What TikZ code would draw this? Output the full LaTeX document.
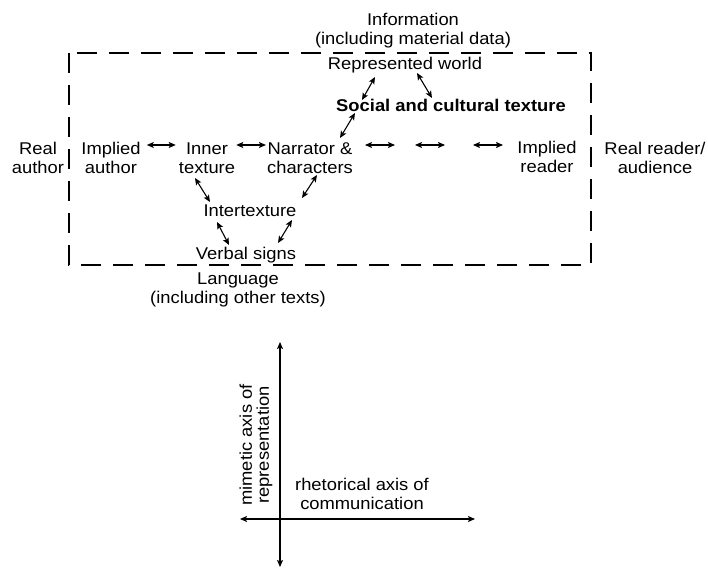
\documentclass[tikz,border=0pt]{standalone}
\usepackage{fontspec}
\setmainfont{Liberation Sans}[FakeStretch=1.08]
\usetikzlibrary{arrows.meta,calc}
\begin{document}
\begin{tikzpicture}[x=1pt,y=-1pt,
  txt/.style={font=\fontsize{17}{19}\selectfont, align=center, inner sep=0pt},
  tip/.tip={Stealth[length=7pt,width=6pt,inset=1.5pt]},
  arr/.style={tip-tip, line width=1.1pt},
  frame/.style={line width=1.8pt, dash pattern=on 20pt off 12pt}]
\useasboundingbox (0,0) rectangle (708,569);

% the text world, bounded by a dashed frame
\draw[frame] (69,53) rectangle (591,265);

% labels of the textual model
\node[txt] (info)    at (413,30.5) {Information\\(including material data)};
\node[txt] (repr)    at (405,65)   {Represented world};
\node[txt,font=\fontsize{17}{19}\selectfont\bfseries] (social) at (451,105) {Social and cultural texture};
\node[txt] (rauthor) at (38,158)   {Real\\author};
\node[txt] (iauthor) at (111,158)  {Implied\\author};
\node[txt] (inner)   at (207,158)  {Inner\\texture};
\node[txt] (narr)    at (310,158)  {Narrator \&\\characters};
\node[txt] (ireader) at (547,157)  {Implied\\reader};
\node[txt] (rreader) at (655,158)  {Real reader/\\audience};
\node[txt] (inter)   at (250,211)  {Intertexture};
\node[txt] (verbal)  at (246,255)  {Verbal signs};
\node[txt] (lang)    at (238,290)  {Language\\(including other texts)};

% horizontal chain of communication
\coordinate (row) at (0,145);
\draw[arr, shorten <=6pt, shorten >=3pt] (iauthor.east |- row) -- (inner.west |- row);
\draw[arr, shorten <=1pt, shorten >=1pt] (inner.east |- row) -- (narr.west |- row);
\coordinate (g1a) at (365,145); \coordinate (g1b) at (395,145);
\coordinate (g2a) at (415,145); \coordinate (g2b) at (445,145);
\coordinate (g3a) at (473,145); \coordinate (g3b) at (503,145);
\draw[arr] (g1a) -- (g1b);
\draw[arr] (g2a) -- (g2b);
\draw[arr] (g3a) -- (g3b);

% links between textures
\draw[arr] ([shift={(-12,20)}]inner.center)  -- ([shift={(-40,-9)}]inter.center);
\draw[arr] ([shift={(-33,11)}]inter.center)  -- ([shift={(-17,-10)}]verbal.center);
\draw[arr] ([shift={(32,-12)}]verbal.center) -- ([shift={(42,9)}]inter.center);
\draw[arr] ([shift={(52,-13)}]inter.center)  -- ([shift={(7,17)}]narr.center);
\draw[arr] ([shift={(30,-20)}]narr.center)   -- ([shift={(-96,8)}]social.center);
\draw[arr] ([shift={(-89,-5)}]social.center) -- ([shift={(-30,12)}]repr.center);
\draw[arr] ([shift={(12,8)}]repr.center)     -- ([shift={(-19,-7)}]social.center);

% the two axes
\coordinate (vtop) at (280,342);
\coordinate (vbot) at (280,567);
\coordinate (hleft) at (240,519);
\coordinate (hright) at (475,519);
\draw[arr] (vbot) -- (vtop);
\draw[arr] (hleft) -- (hright);
\node[txt, rotate=90, font=\fontsize{17}{17}\selectfont] (mimetic) at (256,445) {mimetic axis of\\representation};
\node[txt] (rhet) at (362,494) {rhetorical axis of\\communication};
\end{tikzpicture}
\end{document}
